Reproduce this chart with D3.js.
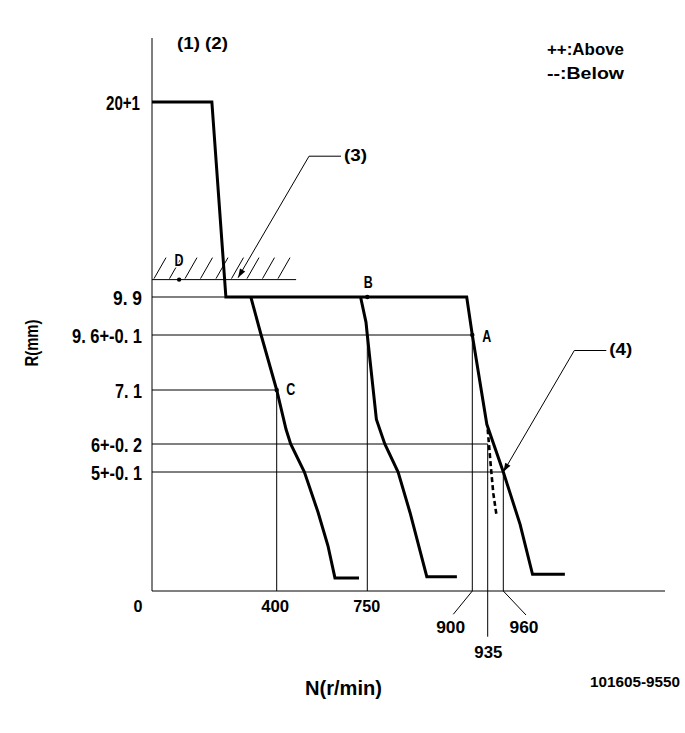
<!DOCTYPE html>
<html>
<head>
<meta charset="utf-8">
<script src="https://cdn.jsdelivr.net/npm/d3@7"></script>
<style>
  html, body { margin: 0; padding: 0; background: #fff; }
  svg { display: block; }
  text { font-family: "Liberation Sans", Arial, sans-serif; font-weight: bold; fill: #000; }
</style>
</head>
<body>
<svg id="chart" width="685" height="733"></svg>
<script>
// ---- Axis ticks: pump speed N (r/min) and rack position R (mm) ----
const xTickValues = [0, 400, 750, 900, 935, 960];
const xTickLabels = ["0", "400", "750", "900", "935", "960"];
const yTickValues = [20, 9.9, 9.6, 7.1, 6, 5];
const yTickLabels = ["20+1", "9. 9", "9. 6+-0. 1", "7. 1", "6+-0. 2", "5+-0. 1"];

// Reference lines: each y tick runs right to this speed, each x tick rises to this rack value
const yGuideToN = [null, 237, 900, 400, 935, 960];
const xGuideToR = [null, 7.1, 9.6, 9.6, 6, 5];

// ---- Governor characteristic curves ----
const fullLoadN = [0, 192, 237, 892, 900, 933, 960, 987, 1007, 1059];
const fullLoadR = [20, 20, 9.9, 9.9, 9.6, 6.4, 5, 2.8, 0.7, 0.7];
const lowIdleN = [317, 350, 400, 436, 454, 507, 560, 598, 625, 718];
const lowIdleR = [9.9, 9.6, 7.1, 6.3, 6, 5, 3.3, 1.9, 0.55, 0.55];
const midSpeedN = [724, 745, 750, 763, 775, 794, 811, 835, 878];
const midSpeedR = [9.9, 9.7, 9.6, 6.5, 6, 5, 3.3, 0.6, 0.6];
const altDroopN = [935, 940, 944, 949];
const altDroopR = [6.3, 5.2, 4.1, 3.2];

// Measuring points
const pointNames = ["A", "B", "C", "D"];
const pointN = [900, 750, 400, 87];
const pointR = [9.6, 9.9, 7.1, 10.8];

// Stopper line (hatched)
const stopR = 10.8;
const stopN = [0, 475];

// Callouts (3) and (4): where the arrows point
const calloutNames = ["(3)", "(4)"];
const calloutN = [276, 960];
const calloutR = [10.9, 5];

// Axis extents
const xMax = 1220;
const yMax = 23.3;

// ---- Scales (the diagram is schematic, so the axes are piecewise linear) ----
const x = d3.scaleLinear()
  .domain([0, 400, 750, 900, 935, 960, xMax])
  .range([152, 276.7, 367.3, 472.3, 487.7, 503.3, 665]);
const y = d3.scaleLinear()
  .domain([0, 5, 6, 7.1, 9.6, 9.9, 20, yMax])
  .range([591, 472, 444, 390, 335, 297, 102, 38]);

const svg = d3.select("#chart");
const zip = (a, b) => a.map((v, i) => [v, b[i]]);
const line = d3.line().x(d => x(d[0])).y(d => y(d[1]));

function label(txt, left, cy, w, fs, k) {
  return svg.append("text")
    .attr("x", left)
    .attr("y", cy + (k === undefined ? 0.36 : k) * fs)
    .attr("font-size", fs)
    .attr("textLength", w)
    .attr("lengthAdjust", "spacingAndGlyphs")
    .text(txt);
}

const thin = svg.append("g").attr("fill", "none").attr("stroke", "#000").attr("stroke-width", 1);

// Axes
thin.append("line").attr("x1", x(0)).attr("y1", y(yMax)).attr("x2", x(0)).attr("y2", y(0));
thin.append("line").attr("x1", x(0)).attr("y1", y(0)).attr("x2", x(xMax)).attr("y2", y(0));

// Horizontal reference lines
yTickValues.forEach((v, i) => {
  if (yGuideToN[i] === null) return;
  thin.append("line").attr("x1", x(0)).attr("x2", x(yGuideToN[i]))
    .attr("y1", y(v)).attr("y2", y(v));
});

// Vertical reference lines
xTickValues.forEach((v, i) => {
  if (xGuideToR[i] === null) return;
  thin.append("line").attr("x1", x(v)).attr("x2", x(v))
    .attr("y1", y(xGuideToR[i])).attr("y2", y(0));
});

// Stopper line with hatching
thin.append("line").attr("x1", x(stopN[0])).attr("x2", x(stopN[1]))
  .attr("y1", y(stopR)).attr("y2", y(stopR));
const hatchStep = 15.5;
const nHatch = Math.floor((x(stopN[1]) - x(stopN[0]) - 8) / hatchStep) + 1;
d3.range(nHatch).forEach(i => {
  const bx = x(stopN[0]) + 2 + i * hatchStep;
  thin.append("line")
    .attr("x1", bx).attr("y1", y(stopR) - 1)
    .attr("x2", bx + 12).attr("y2", y(stopR) - 22);
});

// X tick labels, with leaders for the crowded ones
const xLabelLayout = [
  { dx: -14,  cy: 606, w: 9 },
  { dx: -1.5, cy: 606, w: 28 },
  { dx: -0.6, cy: 606, w: 27 },
  { dx: -21.6, cy: 627, w: 29, lead: [-19, 23.3] },
  { dx: 0.6,  cy: 652, w: 28, lead: [0, 45.7] },
  { dx: 20.7, cy: 627, w: 29, lead: [22.7, 24] }
];
xTickValues.forEach((v, i) => {
  const L = xLabelLayout[i];
  if (L.lead) {
    thin.append("line").attr("x1", x(v)).attr("y1", y(0))
      .attr("x2", x(v) + L.lead[0]).attr("y2", y(0) + L.lead[1]);
  }
  const cx = x(v) + L.dx;
  label(xTickLabels[i], cx - L.w / 2, L.cy, L.w, 17);
});

// Y tick labels (right aligned against the axis)
const yLabelWidths = [34, 29, 70, 27, 51, 51];
const yLabelRight = [140, 142, 142, 142, 142, 142];
yTickValues.forEach((v, i) => {
  label(yTickLabels[i], yLabelRight[i] - yLabelWidths[i], y(v), yLabelWidths[i], 21);
});

// Curves
const curves = svg.append("g").attr("fill", "none").attr("stroke", "#000")
  .attr("stroke-linejoin", "miter").attr("stroke-linecap", "butt");
curves.append("path").attr("d", line(zip(fullLoadN, fullLoadR))).attr("stroke-width", 3);
curves.append("path").attr("d", line(zip(lowIdleN, lowIdleR))).attr("stroke-width", 3);
curves.append("path").attr("d", line(zip(midSpeedN, midSpeedR))).attr("stroke-width", 3);
curves.append("path").attr("d", line(zip(altDroopN, altDroopR)))
  .attr("stroke-width", 2.6).attr("stroke-dasharray", "5,3");

// Measuring points and their letters
const pointLabelOffset = [[14.5, 1], [1, -15.3], [14, -1], [0, -19.3]];
pointNames.forEach((nm, i) => {
  const px = x(pointN[i]), py = y(pointR[i]);
  svg.append("circle").attr("cx", px).attr("cy", py).attr("r", 2.2).attr("fill", "#000");
  const t = label(nm, px + pointLabelOffset[i][0] - 4.5, py + pointLabelOffset[i][1], 9, 17);
  if (nm === "D") t.attr("stroke", "#fff").attr("stroke-width", 3).attr("paint-order", "stroke");
});

// Callout leaders with arrowheads
calloutNames.forEach((nm, i) => {
  const tx = x(calloutN[i]), ty = y(calloutR[i]);
  const ex = tx + 71, ey = ty - 121.5;
  thin.append("polyline").attr("points", [[tx, ty], [ex, ey], [ex + 32, ey]].map(p => p.join(",")).join(" "));
  const ang = Math.atan2(ey - ty, ex - tx);
  const len = 9, hw = 3;
  const bx = tx + Math.cos(ang) * len, by = ty + Math.sin(ang) * len;
  const nx = -Math.sin(ang) * hw, ny = Math.cos(ang) * hw;
  svg.append("polygon")
    .attr("points", [[tx, ty], [bx + nx, by + ny], [bx - nx, by - ny]].map(p => p.join(",")).join(" "))
    .attr("fill", "#000");
  label(nm, ex + 35, ey + 0.5, 23, 16, 0.27);
});

// Titles and legend
label("(1) (2)", 177, 45, 51, 16, 0.27);
label("++:Above", 547, 49, 77, 17);
label("--:Below", 547, 72.5, 77, 17);
label("N(r/min)", 305, 690, 77, 20, 0.27);
label("101605-9550", 590, 681.5, 90, 14);

svg.append("text")
  .attr("transform", "translate(" + (33.5 + 0.27 * 18) + ",343) rotate(-90)")
  .attr("x", -23.5).attr("y", 0)
  .attr("font-size", 18)
  .attr("textLength", 47)
  .attr("lengthAdjust", "spacingAndGlyphs")
  .text("R(mm)");
</script>
</body>
</html>
